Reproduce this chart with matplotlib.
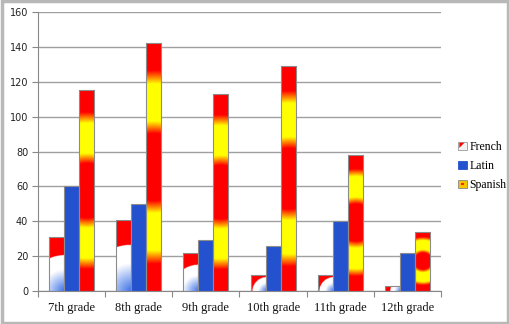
import numpy as np
import matplotlib
matplotlib.use("Agg")
import matplotlib.pyplot as plt
from matplotlib.patches import Rectangle, Polygon
from matplotlib.colors import LinearSegmentedColormap
from matplotlib.legend_handler import HandlerBase

categories = ["7th grade", "8th grade", "9th grade", "10th grade", "11th grade", "12th grade"]
french = [31, 41, 22, 9, 9, 3]
latin = [60, 50, 29, 26, 40, 22]
spanish = [115, 142, 113, 129, 78, 34]
series_names = ["French", "Latin", "Spanish"]
yticks = [0, 20, 40, 60, 80, 100, 120, 140, 160]

W, H = 510, 324
fig = plt.figure(figsize=(W / 100, H / 100), dpi=100)
ax = fig.add_axes([38 / W, 1 - 291 / H, (441 - 38) / W, (291 - 12) / H])

x = np.arange(len(categories))
bw = 0.224
edge = "#8c8c8c"
b_fr = ax.bar(x - bw, french, bw, color="none", edgecolor=edge, lw=0.8, zorder=3, label="French")
b_la = ax.bar(x, latin, bw, color="#2452cf", edgecolor=edge, lw=0.8, zorder=3, label="Latin")
b_sp = ax.bar(x + bw, spanish, bw, color="none", edgecolor=edge, lw=0.8, zorder=3, label="Spanish")

serif = ["Liberation Serif", "DejaVu Serif"]
ax.set_xlim(-0.5, len(categories) - 0.5)
ax.set_ylim(0, 160)
ax.set_yticks(yticks)
ax.set_yticklabels([str(v) for v in yticks], fontsize=7, family="DejaVu Sans", color="#222")
ax.set_xticks(x)
ax.set_xticklabels(categories, fontsize=9, family=serif, color="#111")
ax.tick_params(axis="x", length=0, pad=8)
ax.set_xticks(np.arange(-0.5, len(categories) + 0.5, 1), minor=True)
ax.tick_params(axis="x", which="minor", length=4, color="#888", width=0.8)
ax.tick_params(axis="y", length=4, color="#888", width=0.8, pad=3)
ax.grid(axis="y", color="#a0a0a0", lw=1, zorder=0)
ax.set_axisbelow(True)
for s in ["top", "right"]:
    ax.spines[s].set_visible(False)
for s in ["left", "bottom"]:
    ax.spines[s].set_color("#888")
    ax.spines[s].set_linewidth(0.8)

fig.canvas.draw()

cm_sp = LinearSegmentedColormap.from_list("sp", [
    (0.0, "#ff0000"), (0.27, "#ff0000"), (0.37, "#ffff00"), (0.67, "#ffff00"),
    (0.78, "#ff0000"), (1.0, "#ff0000")])
cm_fr = LinearSegmentedColormap.from_list("fr", [
    (0.0, "#3a70e8"), (0.38, "#ffffff"), (0.629, "#ffffff"), (0.631, "#ff0000"), (1.0, "#ff0000")])


def pix_size(r):
    p0 = ax.transData.transform((r.get_x(), r.get_y()))
    p1 = ax.transData.transform((r.get_x() + r.get_width(), r.get_y() + r.get_height()))
    return abs(p1[0] - p0[0]), abs(p1[1] - p0[1])


def paint(r, kind):
    wpx, hpx = pix_size(r)
    nx = max(int(wpx * 3), 4)
    ny = max(int(hpx * 3), 4)
    xs = (np.arange(nx) + 0.5) / nx * wpx
    ys = (np.arange(ny) + 0.5) / ny * hpx
    X, Y = np.meshgrid(xs, ys)
    if kind == "sp":
        d = np.hypot(X - wpx / 2, Y - hpx / 2) / np.hypot(wpx / 2, hpx / 2)
        img = cm_sp(np.clip(d, 0, 1))
    else:
        d = np.hypot(X - wpx, Y) / np.hypot(wpx, hpx)
        img = cm_fr(np.clip(d, 0, 1))
    x0, y0 = r.get_x(), r.get_y()
    im = ax.imshow(img, origin="lower", extent=[x0, x0 + r.get_width(), y0, y0 + r.get_height()],
                   aspect="auto", interpolation="bilinear", zorder=2.5)
    im.set_clip_path(r)


for r in b_fr:
    paint(r, "fr")
for r in b_sp:
    paint(r, "sp")
ax.set_xlim(-0.5, len(categories) - 0.5)
ax.set_ylim(0, 160)


class SwatchHandler(HandlerBase):
    def __init__(self, kind):
        super().__init__()
        self.kind = kind

    def create_artists(self, legend, orig_handle, xdescent, ydescent, width, height, fontsize, trans):
        s = 6.0
        x0 = width - s - 1
        y0 = (height - s) / 2 - ydescent
        arts = []
        if self.kind == "fr":
            arts.append(Rectangle((x0, y0), s, s, facecolor="#f2f2f2", edgecolor="#999", lw=0.6, transform=trans))
            arts.append(Polygon([[x0 + 0.8, y0 + s - 0.8], [x0 + s - 1.5, y0 + s - 0.8], [x0 + 0.8, y0 + 1.5]],
                                closed=True, facecolor="#ff0000", edgecolor="none", transform=trans))
        elif self.kind == "la":
            arts.append(Rectangle((x0, y0), s, s, facecolor="#2452cf", edgecolor="#2452cf", lw=0.6, transform=trans))
        else:
            arts.append(Rectangle((x0, y0), s, s, facecolor="#f7c400", edgecolor="#888", lw=0.6, transform=trans))
            arts.append(Rectangle((x0 + 2, y0 + 2), s - 4, s - 4, facecolor="#ff2000", edgecolor="none", transform=trans))
        return arts


leg = fig.legend([b_fr, b_la, b_sp], series_names, loc="upper left",
                 bbox_to_anchor=(452 / W, 1 - 135 / H), frameon=False,
                 prop={"family": serif, "size": 8.5},
                 handler_map={b_fr: SwatchHandler("fr"), b_la: SwatchHandler("la"), b_sp: SwatchHandler("sp")},
                 handlelength=0.85, handletextpad=0.1, labelspacing=0.6, borderpad=0)

fig.patches.append(Rectangle((0.003, 0.004), 0.994, 0.992, transform=fig.transFigure,
                             fill=False, edgecolor="#b8b8b8", lw=2.5))

fig.savefig("out.png", dpi=100)
